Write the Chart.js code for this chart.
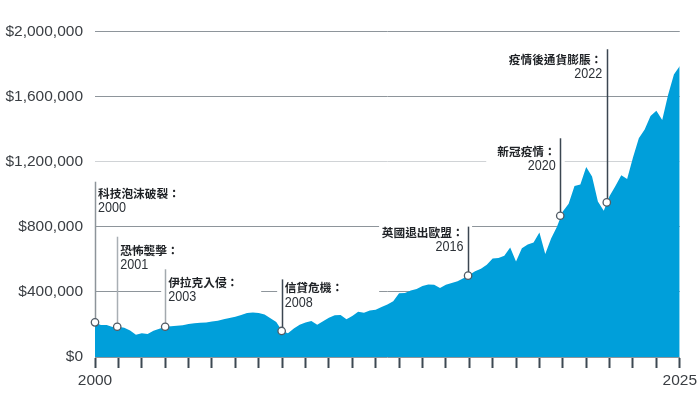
<!DOCTYPE html>
<html>
<head>
<meta charset="utf-8">
<script src="https://cdn.jsdelivr.net/npm/chart.js@4.4.1/dist/chart.umd.min.js"></script>
<style>
html,body{margin:0;padding:0;background:#fff;}
#wrap{position:relative;width:700px;height:403px;}
</style>
</head>
<body>
<div id="wrap"><canvas id="c"></canvas></div>
<script>
// ---- data ----
const quarterLabels = [
 '2000Q1','2000Q2','2000Q3','2000Q4','2001Q1','2001Q2','2001Q3','2001Q4',
 '2002Q1','2002Q2','2002Q3','2002Q4','2003Q1','2003Q2','2003Q3','2003Q4',
 '2004Q1','2004Q2','2004Q3','2004Q4','2005Q1','2005Q2','2005Q3','2005Q4',
 '2006Q1','2006Q2','2006Q3','2006Q4','2007Q1','2007Q2','2007Q3','2007Q4',
 '2008Q1','2008Q2','2008Q3','2008Q4','2009Q1','2009Q2','2009Q3','2009Q4',
 '2010Q1','2010Q2','2010Q3','2010Q4','2011Q1','2011Q2','2011Q3','2011Q4',
 '2012Q1','2012Q2','2012Q3','2012Q4','2013Q1','2013Q2','2013Q3','2013Q4',
 '2014Q1','2014Q2','2014Q3','2014Q4','2015Q1','2015Q2','2015Q3','2015Q4',
 '2016Q1','2016Q2','2016Q3','2016Q4','2017Q1','2017Q2','2017Q3','2017Q4',
 '2018Q1','2018Q2','2018Q3','2018Q4','2019Q1','2019Q2','2019Q3','2019Q4',
 '2020Q1','2020Q2','2020Q3','2020Q4','2021Q1','2021Q2','2021Q3','2021Q4',
 '2022Q1','2022Q2','2022Q3','2022Q4','2023Q1','2023Q2','2023Q3','2023Q4',
 '2024Q1','2024Q2','2024Q3','2024Q4','2025Q1'
];
const portfolioValues = [
 212000,197000,197000,184000, 186000,180000,163000,136000,
 146000,141000,161000,174000, 186000,189000,192000,195000,
 203000,208000,210000,212000, 218000,223000,232000,240000,
 248000,258000,270000,274000, 270000,261000,238000,215000,
 160000,146000,175000,198000, 212000,221000,198000,219000,
 241000,256000,258000,232000, 252000,278000,272000,286000,
 291000,307000,323000,342000, 391000,394000,408000,418000,
 436000,445000,444000,424000, 444000,455000,466000,484000,
 504000,527000,543000,567000, 605000,608000,622000,673000,
 587000,668000,691000,703000, 765000,633000,728000,801000,
 894000,942000,1051000,1060000, 1167000,1109000,955000,899000,
 989000,1051000,1116000,1094000, 1226000,1344000,1398000,1481000,
 1513000,1456000,1610000,1736000, 1788000
];
const yTickValues = [0, 400000, 800000, 1200000, 1600000, 2000000];
const xEndLabels = ['2000', '2025'];

const eventNames  = ['科技泡沫破裂：','恐怖襲擊：','伊拉克入侵：','信貸危機：','英國退出歐盟：','新冠疫情：','疫情後通貨膨脹：'];
const eventYears  = ['2000','2001','2003','2008','2016','2020','2022'];
const eventDates  = [2000.0, 2000.95, 2003.0, 2007.98, 2015.95, 2019.89, 2021.88];
const eventValues = [213000, 186000, 186000, 160000, 500000, 868000, 950000];

// ---- annotation layout (values on the y scale) ----
const leaderTopValues = [1077000, 739000, 539000, 477000, 801000, 1344000, 1891000];
const labelLineValues = [1003000, 657000, 459000, 424000, 763000, 1264000, 1827000];
const labelAlign = ['left','left','left','left','right','right','right'];
const leaderColors = ['#8d949a','#a9afb4','#a3a9ae','#3b4651','#3b4651','#3b4651','#3b4651'];
const maskBoxes = [null, null, [-4, 96], [-4.5, 97.5], [-89, 4], [-74, 4.5], null];

function quarterToX(q){
  const y = parseInt(q.slice(0,4),10);
  const n = parseInt(q.slice(5),10);
  return y + (n-1)/4;
}
const areaData = quarterLabels.map((q,i)=>({x: quarterToX(q), y: portfolioValues[i]}));
const eventData = eventDates.map((d,i)=>({x: d, y: eventValues[i]}));

const SANS = '"Liberation Sans", Arial, Helvetica, sans-serif';
const CJK_FONT = 'bold 11.7px "Noto Sans CJK TC", "Noto Sans CJK SC", sans-serif';
const DIGIT_FONT = '15px "Liberation Sans", Arial, sans-serif';
const DIGIT_SQUEEZE = 0.84;

const annotationPlugin = {
  id: 'events',
  beforeDatasetsDraw(chart){
    const ctx = chart.ctx, xs = chart.scales.x, ys = chart.scales.y;
    ctx.save();
    ctx.fillStyle = '#ffffff';
    eventNames.forEach((n,i)=>{
      const b = maskBoxes[i];
      if(!b) return;
      const lx = xs.getPixelForValue(eventDates[i]);
      const ly = ys.getPixelForValue(labelLineValues[i]);
      ctx.fillRect(lx + b[0], ly - 9, b[1]-b[0], 14 + 18);
    });
    ctx.restore();
  },
  afterDatasetDraw(chart, args){
    if(args.index !== 0) return;
    const ctx = chart.ctx, xs = chart.scales.x, ys = chart.scales.y;
    ctx.save();
    eventNames.forEach((n,i)=>{
      const lx = Math.round(xs.getPixelForValue(eventDates[i])) + 0.5;
      const y0 = ys.getPixelForValue(eventValues[i]);
      const y1 = ys.getPixelForValue(leaderTopValues[i]);
      ctx.strokeStyle = leaderColors[i];
      ctx.lineWidth = 1.5;
      ctx.beginPath();
      ctx.moveTo(lx, y0);
      ctx.lineTo(lx, y1);
      ctx.stroke();
    });
    ctx.textBaseline = 'middle';
    eventNames.forEach((n,i)=>{
      const lx = xs.getPixelForValue(eventDates[i]);
      const ly = ys.getPixelForValue(labelLineValues[i]);
      const left = labelAlign[i]==='left';
      const ax = left ? lx + 3 : lx - 4.5;
      ctx.textAlign = left ? 'left' : 'right';
      ctx.font = CJK_FONT;
      ctx.fillStyle = '#1f2226';
      ctx.fillText(n, ax, ly);
      ctx.save();
      ctx.translate(ax, ly + 14.5);
      ctx.scale(DIGIT_SQUEEZE, 1);
      ctx.font = DIGIT_FONT;
      ctx.fillStyle = '#2d3238';
      ctx.fillText(eventYears[i], 0, 0);
      ctx.restore();
    });
    ctx.restore();
  }
};

new Chart(document.getElementById('c'), {
  type: 'line',
  data: {
    datasets: [
      {
        label: 'value',
        data: areaData,
        fill: 'origin',
        backgroundColor: '#009FDA',
        borderWidth: 0,
        borderColor: 'rgba(0,0,0,0)',
        pointRadius: 0,
        tension: 0,
        order: 2
      },
      {
        label: 'events',
        data: eventData,
        showLine: false,
        pointRadius: 3.7,
        pointBackgroundColor: '#ffffff',
        pointBorderColor: '#505a64',
        pointBorderWidth: 1.3,
        clip: false,
        order: 1
      }
    ]
  },
  options: {
    responsive: true,
    maintainAspectRatio: false,
    animation: false,
    events: [],
    layout: { padding: { top: 31.5, right: 18.5, left: 0, bottom: 0 } },
    plugins: { legend: { display: false }, tooltip: { enabled: false } },
    scales: {
      x: {
        type: 'linear',
        min: 2000,
        max: 2025,
        afterFit(s){ s.height = 46; },
        afterBuildTicks(s){
          const t = [];
          for(let y = 2000; y <= 2025; y++) t.push({value: y});
          s.ticks = t;
        },
        grid: {
          drawOnChartArea: false,
          drawTicks: true,
          tickLength: 11,
          tickWidth: 2,
          tickColor: '#3d4852',
          color: '#3d4852'
        },
        border: { display: true, color: '#8e959b', width: 1 },
        ticks: {
          autoSkip: false,
          maxRotation: 0,
          padding: 3,
          color: '#3a3e43',
          font: { family: SANS, size: 15.5 },
          callback(v){ const s = String(v); return xEndLabels.includes(s) ? s : ''; }
        }
      },
      y: {
        min: 0,
        max: 2000000,
        afterFit(s){ s.width = 95; },
        afterBuildTicks(s){ s.ticks = yTickValues.map(v=>({value:v})); },
        grid: {
          drawTicks: false,
          lineWidth: 1,
          color(ctx){
            const v = ctx.tick && ctx.tick.value;
            if(v === 0) return 'rgba(0,0,0,0)';
            if(v === 1200000) return '#d0d3d6';
            return '#8e959b';
          }
        },
        border: { display: false },
        ticks: {
          padding: 12,
          color: '#3a3e43',
          font: { family: SANS, size: 15.5 },
          callback(v){ return '$' + Number(v).toLocaleString('en-US'); }
        }
      }
    }
  },
  plugins: [annotationPlugin]
});
</script>
</body>
</html>
